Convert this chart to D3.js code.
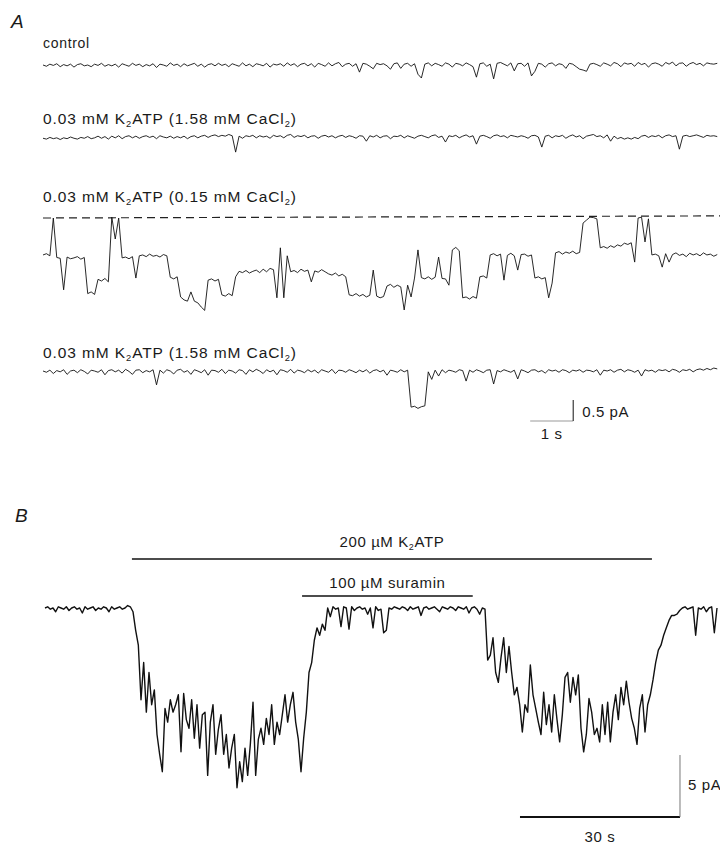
<!DOCTYPE html>
<html>
<head>
<meta charset="utf-8">
<script src="https://cdn.jsdelivr.net/npm/d3@7"></script>
<style>
body { margin: 0; background: #fff; }
svg text { font-family: "Liberation Sans", Arial, sans-serif; fill: #1a1a1a; }
</style>
</head>
<body>
<svg width="720" height="845"></svg>
<script>
// Panel A: single-channel records, one sample every 80 ms, current in pA (0 = closed level)
const dtA = 0.08;

const traceControl = [
  0.00, -0.03, 0.02, -0.01, 0.03, -0.04, 0.01, -0.02, 0.02, -0.05,
  0.01, 0.03, -0.02, 0.00, -0.04, 0.02, -0.01, 0.04, -0.03, 0.01,
  -0.02, 0.02, -0.05, 0.03, 0.00, -0.03, 0.04, -0.01, 0.02, -0.04,
  0.01, -0.02, 0.03, -0.06, 0.02, 0.00, -0.03, 0.05, -0.01, 0.02,
  -0.04, 0.03, -0.02, 0.01, 0.04, -0.03, 0.02, -0.05, 0.01, 0.03,
  -0.02, 0.04, -0.01, 0.02, -0.04, 0.03, 0.00, -0.03, 0.05, -0.02,
  0.02, -0.04, 0.03, 0.01, -0.02, 0.04, -0.05, 0.02, 0.00, 0.03,
  -0.03, 0.05, -0.01, 0.03, -0.04, 0.02, 0.04, -0.02, 0.03, -0.05,
  0.04, 0.01, -0.03, 0.05, -0.02, 0.03, 0.06, -0.04, 0.02, 0.04,
  -0.03, 0.03, -0.17, 0.04, 0.02, -0.03, -0.09, 0.04, 0.01, 0.03,
  -0.02, -0.10, 0.03, 0.05, -0.08, 0.02, 0.04, -0.03, 0.03, -0.22,
  -0.31, 0.02, 0.05, -0.02, 0.04, 0.01, -0.03, 0.05, 0.02, -0.05,
  0.04, 0.02, -0.02, 0.05, 0.01, -0.04, -0.29, 0.03, 0.05, -0.03,
  0.02, -0.33, 0.04, 0.06, 0.02, -0.02, 0.05, -0.14, 0.03, 0.04,
  -0.03, 0.05, -0.26, -0.15, 0.04, 0.02, -0.05, 0.03, 0.05, -0.02,
  0.03, 0.01, -0.08, 0.04, 0.02, -0.04, -0.10, -0.12, -0.15, 0.02,
  0.04, 0.01, -0.03, 0.05, 0.02, -0.02, 0.06, 0.03, -0.04, 0.05,
  0.02, 0.04, -0.03, 0.06, 0.01, 0.04, -0.05, 0.03, 0.05, 0.02,
  -0.03, 0.06, 0.02, 0.07, -0.02, 0.04, 0.05, -0.03, 0.03, 0.06,
  0.01, 0.04, -0.02, 0.05, 0.03, 0.02, 0.04
];

const traceHighCa1 = [
  -0.03, -0.05, -0.01, -0.04, -0.02, -0.06, -0.02, -0.04, 0.00, -0.03,
  -0.05, -0.01, -0.03, 0.01, -0.04, -0.02, 0.02, -0.03, 0.01, -0.05,
  0.02, -0.02, 0.03, -0.04, 0.01, 0.03, -0.02, 0.02, -0.03, 0.01,
  0.03, -0.01, 0.02, -0.04, 0.03, 0.00, -0.02, 0.02, -0.03, 0.01,
  -0.02, 0.02, -0.04, 0.01, 0.03, -0.02, 0.02, 0.04, -0.01, 0.03,
  0.05, 0.01, 0.04, 0.02, 0.06, 0.03, -0.36, 0.02, -0.03, 0.03,
  0.01, 0.04, -0.02, 0.03, 0.00, 0.02, -0.03, 0.04, 0.01, 0.03,
  -0.02, 0.04, 0.06, -0.01, 0.03, 0.01, 0.04, -0.02, 0.02, 0.03,
  -0.03, 0.02, 0.04, 0.00, 0.03, -0.02, 0.02, 0.04, -0.01, 0.03,
  0.01, -0.03, 0.03, 0.02, -0.10, 0.03, 0.00, 0.04, -0.02, 0.02,
  0.03, -0.04, 0.02, 0.01, 0.04, -0.02, 0.03, 0.00, -0.03, 0.02,
  0.04, 0.01, -0.02, 0.03, 0.05, -0.01, 0.02, -0.12, 0.03, 0.01,
  0.04, -0.02, 0.02, 0.05, 0.00, 0.03, -0.17, 0.02, 0.04, 0.01,
  -0.03, 0.03, 0.05, 0.01, 0.03, -0.02, 0.04, 0.02, 0.00, 0.03,
  0.01, -0.03, 0.03, 0.04, 0.00, -0.24, 0.02, 0.04, -0.02, 0.03,
  0.01, 0.04, -0.03, 0.02, 0.05, 0.00, 0.03, -0.04, 0.02, 0.04,
  0.06, 0.01, 0.03, -0.02, 0.05, -0.10, 0.02, -0.04, -0.01, -0.05,
  -0.02, -0.05, -0.01, -0.04, 0.02, 0.04, -0.01, 0.03, 0.01, 0.04,
  -0.02, 0.03, 0.05, 0.01, 0.03, -0.29, 0.02, 0.04, 0.01, 0.03,
  0.05, 0.02, -0.01, 0.04, 0.02, 0.03, 0.01
];

const traceLowCa = [
  -0.88, -0.85, -0.90, 0.00, -0.94, -0.96, -1.71, -0.93, -0.97, -0.95,
  -0.92, -0.98, -0.94, -1.80, -1.76, -1.82, -1.46, -1.50, -1.44, -1.52,
  0.02, -0.50, 0.00, -0.95, -0.93, -0.97, -0.92, -1.43, -0.90, -0.88,
  -0.92, -0.86, -0.91, -0.89, -0.93, -0.87, -0.90, -1.41, -1.45, -1.40,
  -1.88, -1.95, -1.98, -1.76, -1.98, -2.02, -2.12, -2.20, -1.48, -1.45,
  -1.50, -1.46, -1.83, -1.86, -1.80, -1.85, -1.40, -1.27, -1.30, -1.25,
  -1.31, -1.27, -1.24, -1.30, -1.22, -1.28, -1.20, -1.23, -1.90, -0.71,
  -1.90, -0.90, -1.28, -1.25, -1.30, -1.22, -1.27, -1.24, -1.52, -1.26,
  -1.29, -1.23, -1.28, -1.33, -1.36, -1.31, -1.38, -1.34, -1.40, -1.83,
  -1.85, -1.80, -1.86, -1.82, -1.88, -1.84, -1.24, -1.86, -1.90, -1.87,
  -1.62, -1.58, -1.65, -1.60, -1.64, -2.19, -1.60, -1.88, -1.43, -0.76,
  -1.42, -1.45, -1.40, -1.46, -1.41, -0.93, -1.44, -1.45, -1.60, -0.76,
  -0.70, -0.78, -1.90, -1.88, -1.93, -1.87, -1.91, -1.40, -1.38, -1.43,
  -0.88, -0.85, -0.90, -0.86, -1.48, -0.89, -0.84, -0.90, -1.24, -0.87,
  -0.86, -0.91, -0.88, -1.43, -1.40, -1.45, -1.42, -1.90, -1.55, -0.83,
  -0.80, -0.86, -0.81, -0.84, -0.79, -0.85, -0.82, -0.12, -0.05, 0.02,
  0.01, -0.02, -0.71, -0.68, -0.72, -0.66, -0.70, -0.64, -0.67, -0.60,
  -0.63, -0.59, -1.05, 0.00, 0.02, -0.57, -0.02, -0.88, -0.86, -0.90,
  -1.17, -0.85, -1.05, -0.87, -0.83, -0.89, -0.86, -0.92, -0.84, -0.88,
  -0.85, -0.90, -0.83, -0.88, -0.86, -0.91, -0.87
];

const traceHighCa2 = [
  0.00, -0.03, 0.02, -0.06, 0.01, -0.02, 0.03, -0.08, 0.00, 0.02,
  -0.04, 0.03, -0.01, -0.07, 0.02, 0.00, -0.03, 0.03, -0.09, 0.01,
  0.03, -0.02, 0.02, -0.05, 0.04, -0.01, -0.08, 0.02, 0.03, -0.04,
  0.01, -0.02, 0.03, -0.33, 0.02, -0.05, 0.03, 0.00, -0.07, 0.02,
  0.04, -0.03, 0.01, -0.08, 0.03, 0.00, -0.04, 0.03, -0.10, 0.02,
  0.01, -0.03, 0.04, -0.06, 0.02, 0.00, -0.05, 0.03, 0.01, -0.08,
  0.03, -0.02, 0.04, 0.00, -0.06, 0.03, -0.02, 0.02, -0.09, 0.03,
  0.01, -0.03, 0.04, -0.05, 0.02, 0.00, -0.04, 0.03, -0.02, 0.02,
  -0.05, 0.03, 0.00, -0.03, 0.04, -0.06, 0.02, 0.01, -0.03, 0.03,
  0.00, -0.04, 0.02, -0.02, 0.03, -0.05, 0.01, 0.03, -0.02, 0.02,
  -0.10, 0.02, 0.00, -0.03, 0.03, -0.02, 0.02, -0.86, -0.84, -0.89,
  -0.85, -0.83, -0.02, -0.20, 0.02, -0.12, 0.03, -0.04, 0.02, 0.00,
  -0.03, 0.03, 0.01, -0.24, 0.02, -0.03, 0.03, 0.00, -0.04, 0.02,
  0.03, -0.31, 0.01, -0.02, 0.03, 0.00, -0.03, 0.02, -0.19, 0.03,
  0.00, -0.04, 0.02, 0.03, -0.02, 0.01, -0.05, 0.03, 0.00, 0.02,
  -0.03, 0.03, 0.01, -0.04, 0.02, 0.00, 0.03, -0.03, 0.02, 0.01,
  -0.02, 0.03, -0.10, 0.02, 0.00, 0.03, -0.03, 0.02, 0.04, -0.02,
  0.03, 0.01, -0.03, 0.02, -0.12, 0.03, 0.00, 0.02, -0.03, 0.03,
  0.01, 0.03, -0.02, 0.04, 0.02, -0.03, 0.03, 0.01, 0.04, -0.02,
  0.03, 0.05, 0.02, 0.06, 0.03, 0.07, 0.05
];

// dashed closed-channel level under the low-Ca record (start, end of sweep), pA
const closedLevel = [0, 0.05];

const labelsA = [
  "control",
  "0.03 mM K_2ATP (1.58 mM CaCl_2)",
  "0.03 mM K_2ATP (0.15 mM CaCl_2)",
  "0.03 mM K_2ATP (1.58 mM CaCl_2)"
];

// Panel B: macroscopic current, one sample every 0.5 s, pA
const dtB = 0.5;
const traceB = [
  0.0, 0.1, -0.1, 0.0, -0.3, 0.1, 0.0, -0.1, 0.1, -0.2,
  0.0, 0.1, -0.1, 0.0, -0.4, 0.1, -0.1, 0.0, 0.1, -0.2,
  0.0, -0.1, 0.1, 0.0, -0.3, 0.1, -0.1, 0.0, 0.1, -0.1,
  0.0, 0.2, 0.1, -0.3, -1.8, -3.0, -7.4, -4.4, -8.4, -5.2,
  -7.8, -6.6, -10.2, -11.8, -13.2, -8.1, -9.2, -7.4, -8.4, -7.8,
  -7.0, -11.6, -6.9, -9.0, -9.7, -7.4, -10.5, -7.8, -11.3, -8.6,
  -8.4, -13.5, -9.2, -7.8, -11.8, -9.8, -8.6, -11.8, -10.2, -12.9,
  -11.3, -10.2, -14.5, -12.4, -14.0, -11.3, -13.5, -11.0, -7.6, -13.5,
  -10.6, -9.7, -11.0, -8.9, -10.2, -7.8, -11.0, -9.2, -10.2, -8.6,
  -7.0, -9.2, -7.8, -6.8, -9.2, -10.6, -13.2, -10.5, -8.4, -5.2,
  -4.4, -2.6, -1.6, -2.2, -1.3, -1.8, 0.0, -0.7, 0.1, -0.1,
  0.0, -1.5, 0.1, 0.0, -1.7, 0.1, -0.2, 0.0, 0.1, -0.1,
  0.0, -0.5, 0.0, -1.6, 0.1, -0.2, -0.1, -2.0, -1.8, 0.0,
  -0.1, 0.1, 0.0, -0.1, 0.1, 0.0, -0.2, 0.1, -0.1, 0.0,
  0.1, -0.6, 0.0, 0.1, -0.1, 0.0, 0.1, -0.1, -0.3, 0.1,
  0.0, -0.1, 0.1, 0.0, -0.2, 0.1, 0.0, -0.1, 0.1, -0.4,
  0.0, 0.1, -0.1, -0.5, 0.0, -0.1, -4.2, -3.8, -2.4, -5.2,
  -6.0, -4.0, -2.4, -5.2, -3.1, -5.2, -7.0, -6.4, -7.8, -10.0,
  -7.8, -8.4, -4.6, -7.0, -8.1, -9.2, -10.2, -6.8, -9.4, -7.8,
  -10.0, -7.0, -9.0, -10.8, -8.6, -5.6, -5.2, -7.6, -5.6, -7.0,
  -5.4, -9.7, -11.6, -10.2, -7.3, -8.4, -10.2, -9.7, -10.8, -7.8,
  -10.2, -7.6, -10.8, -8.4, -7.0, -9.0, -6.4, -7.8, -5.9, -7.6,
  -8.9, -9.7, -11.0, -8.1, -7.0, -10.0, -7.8, -7.0, -5.8, -4.4,
  -3.4, -3.0, -2.2, -1.6, -1.0, -0.6, -0.6, -0.5, -0.2, 0.0,
  0.1, -0.1, 0.0, 0.1, -2.2, 0.0, -0.1, 0.1, -0.3, 0.0,
  0.1, -2.0, 0.0
];

// drug application bars, seconds from start of the record
const applications = [
  { label: "200 \u00b5M K_2ATP", start: 16.3, end: 113.8 },
  { label: "100 \u00b5M suramin", start: 48.2, end: 80.2 }
];

const scaleBarA = { s: 1, pA: 0.5 };
const scaleBarB = { s: 30, pA: 5 };

const svg = d3.select("svg");

function addLabel(x, y, str, size, anchor, spacing) {
  const t = svg.append("text")
      .attr("x", x)
      .attr("y", y)
      .attr("font-size", size)
      .attr("letter-spacing", spacing == null ? 0.6 : spacing)
      .attr("text-anchor", anchor || "start");
  str.split(/_(\d)/).forEach((part, i) => {
    if (!part) return;
    if (i % 2) {
      t.append("tspan").attr("font-size", size * 0.6).attr("dy", 3).text(part);
    } else {
      t.append("tspan").attr("dy", i ? -3 : 0).text(part);
    }
  });
}

// ---- panel A ----
const pxPerSecA = 43, pxPerPA = 42;
const xA = d3.scaleLinear().domain([0, 1]).range([43, 43 + pxPerSecA]);
const rowsA = [
  { data: traceControl, y0: 65, labelY: 48, size: 14 },
  { data: traceHighCa1, y0: 137, labelY: 124, size: 15.5 },
  { data: traceLowCa, y0: 218, labelY: 202, size: 15.5 },
  { data: traceHighCa2, y0: 371, labelY: 358, size: 15.5 }
];

svg.append("text")
    .attr("x", 11).attr("y", 28)
    .attr("font-size", 19).attr("font-style", "italic")
    .text("A");

rowsA.forEach((row, k) => {
  const y = d3.scaleLinear().domain([0, 1]).range([row.y0, row.y0 - pxPerPA]);
  addLabel(43, row.labelY, labelsA[k], row.size, "start", k ? 0.9 : 0.7);

  if (row.data === traceLowCa) {
    svg.append("line")
        .attr("x1", xA(0)).attr("x2", 720)
        .attr("y1", y(closedLevel[0])).attr("y2", y(closedLevel[1]))
        .attr("stroke", "#222")
        .attr("stroke-width", 1.2)
        .attr("stroke-dasharray", "8,5");
  }

  svg.append("path")
      .datum(row.data)
      .attr("fill", "none")
      .attr("stroke", "#111")
      .attr("stroke-width", 0.9)
      .attr("stroke-linejoin", "round")
      .attr("d", d3.line().x((d, i) => xA(i * dtA)).y(d => y(d)));
});

// scale bar A
const barA_t0 = 11.33, barA_y = 421;
svg.append("line")
    .attr("x1", xA(barA_t0)).attr("x2", xA(barA_t0 + scaleBarA.s))
    .attr("y1", barA_y).attr("y2", barA_y)
    .attr("stroke", "#999").attr("stroke-width", 1);
svg.append("line")
    .attr("x1", xA(barA_t0 + scaleBarA.s)).attr("x2", xA(barA_t0 + scaleBarA.s))
    .attr("y1", barA_y).attr("y2", barA_y - scaleBarA.pA * pxPerPA)
    .attr("stroke", "#111").attr("stroke-width", 1);
addLabel(xA(barA_t0 + scaleBarA.s) + 9, 417, scaleBarA.pA + " pA", 15);
addLabel(xA(barA_t0 + scaleBarA.s / 2), 439, scaleBarA.s + " s", 15, "middle");

// ---- panel B ----
const pxPerPAB = 12.4;
const xB = d3.scaleLinear().domain([0, 30]).range([45, 45 + 160]);
const yB = d3.scaleLinear().domain([0, -5]).range([608, 608 + 5 * pxPerPAB]);

svg.append("text")
    .attr("x", 15).attr("y", 522)
    .attr("font-size", 19).attr("font-style", "italic")
    .text("B");

const barY = [559, 596];
const labelY = [547, 588];
applications.forEach((a, k) => {
  svg.append("line")
      .attr("x1", xB(a.start)).attr("x2", xB(a.end))
      .attr("y1", barY[k]).attr("y2", barY[k])
      .attr("stroke", "#111").attr("stroke-width", 1.6);
  addLabel(xB((a.start + a.end) / 2), labelY[k], a.label, 15, "middle");
});

svg.append("path")
    .datum(traceB)
    .attr("fill", "none")
    .attr("stroke", "#111")
    .attr("stroke-width", 1.4)
    .attr("stroke-linejoin", "round")
    .attr("d", d3.line().x((d, i) => xB(i * dtB)).y(d => yB(d)));

// scale bar B
const barB_t0 = 89.06, barB_y = 817;
svg.append("line")
    .attr("x1", xB(barB_t0)).attr("x2", xB(barB_t0 + scaleBarB.s))
    .attr("y1", barB_y).attr("y2", barB_y)
    .attr("stroke", "#111").attr("stroke-width", 2);
svg.append("line")
    .attr("x1", xB(barB_t0 + scaleBarB.s)).attr("x2", xB(barB_t0 + scaleBarB.s))
    .attr("y1", barB_y).attr("y2", barB_y - scaleBarB.pA * pxPerPAB)
    .attr("stroke", "#777").attr("stroke-width", 1);
addLabel(xB(barB_t0 + scaleBarB.s) + 8, 790, scaleBarB.pA + " pA", 15);
addLabel(xB(barB_t0 + scaleBarB.s / 2), 842, scaleBarB.s + " s", 15, "middle");
</script>
</body>
</html>
